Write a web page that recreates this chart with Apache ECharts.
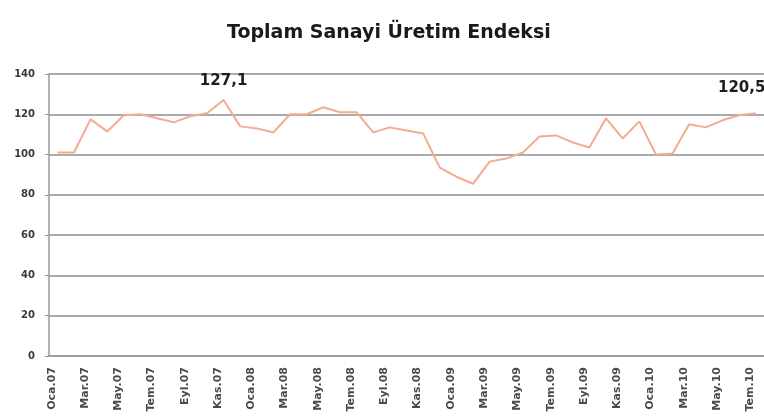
<!DOCTYPE html>
<html lang="tr">
<head>
    <meta charset="UTF-8">
    <title>Toplam Sanayi Üretim Endeksi</title>
    <script src="https://cdn.jsdelivr.net/npm/echarts@6/dist/echarts.min.js"></script>
    <style type="text/css">
        body {
            margin: 0;
            padding: 0;
            background-color: #fff;
        }

        #chart {
            width: 764px;
            height: 420px;
        }
    </style>
</head>
<body>
<div id="chart"></div>

<script>
    // ay kısaltmaları ve yıllar -> kategori etiketleri (Oca.07 ... Tem.10)
    var monthNames = ["Oca", "Şub", "Mar", "Nis", "May", "Haz", "Tem", "Ağu", "Eyl", "Eki", "Kas", "Ara"];
    var years = ["07", "08", "09", "10"];
    var monthCount = 43;

    // endeks değerleri
    var indexValues = [
        101, 101, 117.5, 111.5, 119.5, 120, 118, 116, 119, 120.5, 127.1, 114,
        113, 111, 120, 120, 123.5, 121, 121, 111, 113.5, 112, 110.5, 93.5,
        89, 85.5, 96.5, 98, 101, 109, 109.5, 106, 103.5, 118, 108, 116.5,
        100, 100.5, 115, 113.5, 117, 119.5, 120.5
    ];

    // etiketi gösterilen noktalar
    var labeledPoints = [10, 42];

    var yTicks = [0, 20, 40, 60, 80, 100, 120, 140];

    var categories = [];
    for (var i = 0; i < monthCount; i++) {
        categories.push(monthNames[i % 12] + "." + years[Math.floor(i / 12)]);
    }

    var seriesData = indexValues.map(function (v, i) {
        if (labeledPoints.indexOf(i) < 0) return v;
        var last = i === indexValues.length - 1;
        return {
            value: v,
            label: {
                show: true,
                position: "top",
                distance: last ? 18 : 11,
                offset: last ? [-14, 0] : [0, 0],
                fontFamily: "DejaVu Sans",
                fontWeight: "bold",
                fontSize: 15,
                color: "#1e1e1e",
                formatter: function (p) {
                    return String(p.value).replace(".", ",");
                }
            }
        };
    });

    var chart = echarts.init(document.getElementById("chart"));
    chart.setOption({
        animation: false,
        backgroundColor: "#ffffff",
        title: {
            text: "Toplam Sanayi Üretim Endeksi",
            left: 222,
            top: 19,
            textStyle: {
                fontFamily: "DejaVu Sans",
                fontWeight: "bold",
                fontSize: 19,
                color: "#1a1a1a"
            }
        },
        grid: {
            left: 49,
            top: 74,
            width: 716,
            bottom: 64,
            containLabel: false
        },
        xAxis: {
            type: "category",
            data: categories,
            boundaryGap: true,
            axisLine: {lineStyle: {color: "#9a9a9a", width: 1.5}},
            axisTick: {interval: 1, length: 4, lineStyle: {color: "#b0b0b0"}},
            axisLabel: {
                interval: 1,
                rotate: 90,
                margin: 11,
                verticalAlign: "bottom",
                fontFamily: "DejaVu Sans",
                fontWeight: "bold",
                fontSize: 11,
                color: "#4a4a4a"
            },
            splitLine: {show: false}
        },
        yAxis: {
            type: "value",
            min: yTicks[0],
            max: yTicks[yTicks.length - 1],
            interval: yTicks[1] - yTicks[0],
            axisLine: {show: true, lineStyle: {color: "#9a9a9a", width: 1.5}},
            axisTick: {show: true, length: 4, lineStyle: {color: "#9a9a9a"}},
            axisLabel: {
                margin: 14,
                fontFamily: "DejaVu Sans",
                fontWeight: "bold",
                fontSize: 10,
                color: "#3a3a3a"
            },
            splitLine: {lineStyle: {color: "#8e8e8e", width: 1.5}}
        },
        series: [
            {
                name: "Toplam Sanayi Üretim Endeksi",
                type: "line",
                data: seriesData,
                showSymbol: true,
                symbol: "circle",
                symbolSize: 0,
                z: 1,
                itemStyle: {color: "#f2a487"},
                lineStyle: {color: "#f4ab91", width: 2}
            }
        ]
    });
</script>
</body>
</html>
